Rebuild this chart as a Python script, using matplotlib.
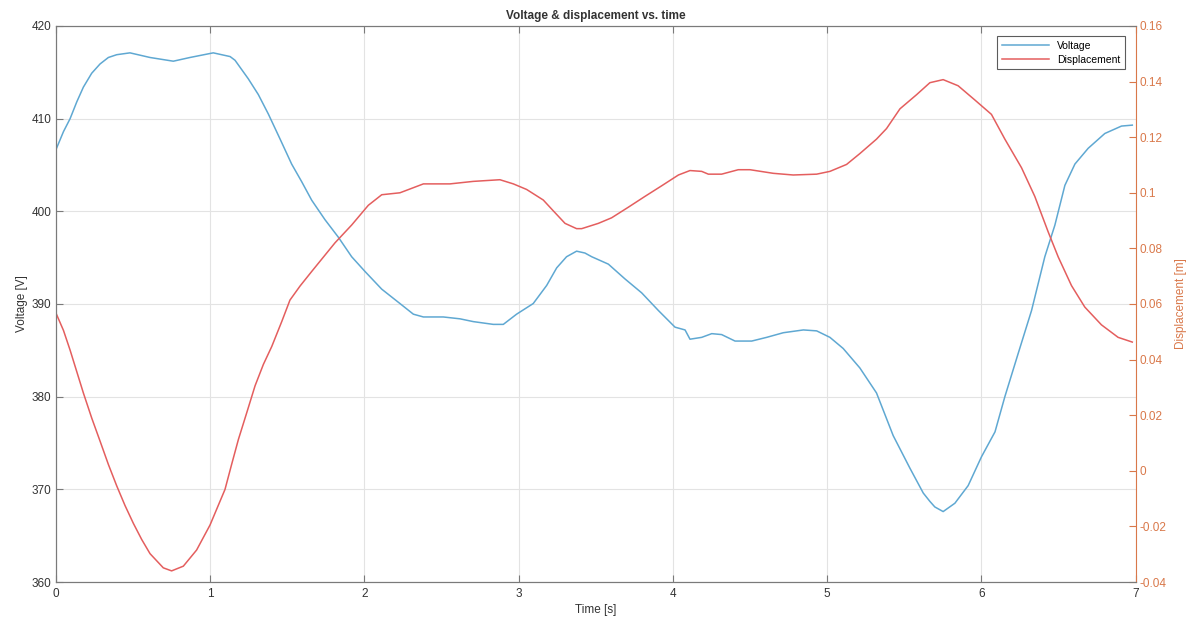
import matplotlib
matplotlib.use("Agg")
import matplotlib.pyplot as plt
import numpy as np

plt.rcParams['font.family'] = ['Liberation Sans', 'DejaVu Sans']

# Voltage series (time [s], voltage [V])
t_voltage = [0.0, 0.05, 0.093, 0.136, 0.179, 0.233, 0.287, 0.341, 0.395, 0.481, 0.611,
             0.762, 0.870, 1.021, 1.13, 1.162, 1.248, 1.313, 1.378, 1.454, 1.529,
             1.594, 1.659, 1.745, 1.832, 1.918, 2.005, 2.113, 2.231,
             2.318, 2.383, 2.512, 2.620, 2.706, 2.836, 2.901, 2.987, 3.095, 3.182,
             3.247, 3.311, 3.376, 3.430, 3.474, 3.582, 3.690, 3.798, 3.906, 4.014,
             4.079, 4.111, 4.187, 4.252, 4.316, 4.403, 4.511, 4.608, 4.716, 4.846,
             4.932, 5.018, 5.104, 5.212, 5.320, 5.428, 5.536, 5.623, 5.666, 5.698, 5.752,
             5.828, 5.914, 6.0, 6.088, 6.152, 6.239, 6.325, 6.411, 6.476, 6.541,
             6.606, 6.692, 6.800, 6.908, 6.978]
voltage = [406.6, 408.6, 410.0, 411.8, 413.4, 414.9, 415.9, 416.6, 416.9, 417.1, 416.6,
           416.2, 416.6, 417.1, 416.7, 416.3, 414.3, 412.6, 410.5, 407.8, 405.1,
           403.2, 401.2, 399.1, 397.2, 395.1, 393.5, 391.6, 390.05,
           388.9, 388.6, 388.6, 388.4, 388.1, 387.8, 387.8, 388.9, 390.05, 392.0,
           393.9, 395.1, 395.7, 395.5, 395.1, 394.3, 392.7, 391.2, 389.3, 387.5,
           387.2, 386.2, 386.4, 386.8, 386.7, 386.0, 386.0, 386.4, 386.9, 387.2,
           387.1, 386.4, 385.2, 383.1, 380.4, 375.8, 372.3, 369.6, 368.7, 368.1, 367.6,
           368.5, 370.4, 373.5, 376.2, 380.0, 384.7, 389.3, 395.1, 398.5, 402.8,
           405.1, 406.8, 408.4, 409.2, 409.3]

# Displacement series (time [s], displacement [m])
t_disp = [0.0, 0.05, 0.093, 0.179, 0.233, 0.287, 0.341, 0.395, 0.449, 0.503, 0.557,
          0.611, 0.697, 0.751, 0.827, 0.913, 1.0, 1.097, 1.14, 1.184, 1.238, 1.292,
          1.346, 1.400, 1.465, 1.518, 1.584, 1.659, 1.81, 1.918, 2.026, 2.113,
          2.231, 2.383, 2.555, 2.706, 2.879, 2.966, 3.052, 3.160, 3.225, 3.301,
          3.376, 3.409, 3.517, 3.603, 3.711, 3.819, 3.927, 4.036, 4.111, 4.187,
          4.230, 4.316, 4.424, 4.500, 4.651, 4.780, 4.932, 5.018, 5.126, 5.212,
          5.320, 5.385, 5.472, 5.580, 5.666, 5.752, 5.849, 5.957, 6.065, 6.152,
          6.260, 6.346, 6.433, 6.498, 6.584, 6.670, 6.778, 6.886, 6.978]
displacement = [0.0569, 0.0505, 0.0434, 0.0280, 0.0190, 0.0107, 0.0023, -0.0054,
                -0.0125, -0.0189, -0.0247, -0.0298, -0.0349,
                -0.0360, -0.0343, -0.0285, -0.0195, -0.0067, 0.0023, 0.0113, 0.0209,
                0.0306, 0.0383, 0.0447, 0.0537, 0.0614, 0.0665, 0.0717, 0.0820, 0.0884,
                0.0955, 0.0993, 0.1000, 0.1032,
                0.1032, 0.1041, 0.1047, 0.1032, 0.1012, 0.0974, 0.0935, 0.0890,
                0.0871, 0.0871, 0.0890, 0.0910, 0.0948, 0.0987, 0.1025, 0.1064,
                0.1080, 0.1077, 0.1067, 0.1067, 0.1083, 0.1083, 0.1070, 0.1064,
                0.1067, 0.1077, 0.1102, 0.1141, 0.1193, 0.1231, 0.1302, 0.1353,
                0.1396, 0.1407, 0.1385, 0.1334, 0.1282, 0.1193, 0.1090, 0.0987,
                0.0859, 0.0769, 0.0666, 0.0589, 0.0525, 0.0480, 0.0463]

x_ticks = [0, 1, 2, 3, 4, 5, 6, 7]
v_ticks = [360, 370, 380, 390, 400, 410, 420]
d_ticks = [-0.04, -0.02, 0, 0.02, 0.04, 0.06, 0.08, 0.1, 0.12, 0.14, 0.16]
d_ticklabels = ['-0.04', '-0.02', '0', '0.02', '0.04', '0.06', '0.08', '0.1', '0.12', '0.14', '0.16']

c_volt = '#5FA8D2'
c_disp = '#E45E5E'
c_right = '#D9784A'
c_axis = '#7A7A7A'
c_text = '#333333'

fig = plt.figure(figsize=(11.99, 6.23), dpi=100)
ax = fig.add_axes([0.0465, 0.0658, 0.9007, 0.8925])
ax2 = ax.twinx()

l1, = ax.plot(t_voltage, voltage, color=c_volt, lw=1.1, label='Voltage')
l2, = ax2.plot(t_disp, displacement, color=c_disp, lw=1.1, label='Displacement')

ax.set_xlim(0, 7)
ax.set_ylim(360, 420)
ax2.set_ylim(-0.04, 0.16)
ax.set_xticks(x_ticks)
ax.set_yticks(v_ticks)
ax2.set_yticks(d_ticks)
ax2.set_yticklabels(d_ticklabels)

ax.grid(True, color='#E3E3E3', lw=0.8)
ax.set_axisbelow(True)

ax.tick_params(axis='x', direction='in', top=True, bottom=True, length=5,
               colors=c_axis, labelcolor=c_text, labelsize=8.5, pad=4)
ax.tick_params(axis='y', direction='in', left=True, right=False, length=5,
               colors=c_axis, labelcolor=c_text, labelsize=8.5, pad=3)
ax2.tick_params(axis='y', direction='in', right=True, length=5,
                colors=c_right, labelcolor=c_right, labelsize=8.5, pad=3)

for s in ['left', 'top', 'bottom']:
    ax.spines[s].set_color(c_axis)
    ax2.spines[s].set_color(c_axis)
ax.spines['right'].set_visible(False)
ax2.spines['right'].set_color(c_right)

ax.set_xlabel('Time [s]', fontsize=8.5, color=c_text, labelpad=3)
ax.set_ylabel('Voltage [V]', fontsize=8.5, color=c_text, labelpad=3)
ax2.set_ylabel('Displacement [m]', fontsize=8.5, color=c_right, labelpad=6)
ax.set_title('Voltage & displacement vs. time', fontsize=8.5, fontweight='bold',
             color=c_text, pad=5)

leg = ax2.legend(handles=[l1, l2], loc='upper right', fontsize=7.5, frameon=True,
                 fancybox=False, edgecolor='#333333', borderpad=0.45,
                 handlelength=4.5, labelspacing=0.35, borderaxespad=1.0)
leg.get_frame().set_linewidth(0.8)

fig.savefig('out.png', dpi=100)
